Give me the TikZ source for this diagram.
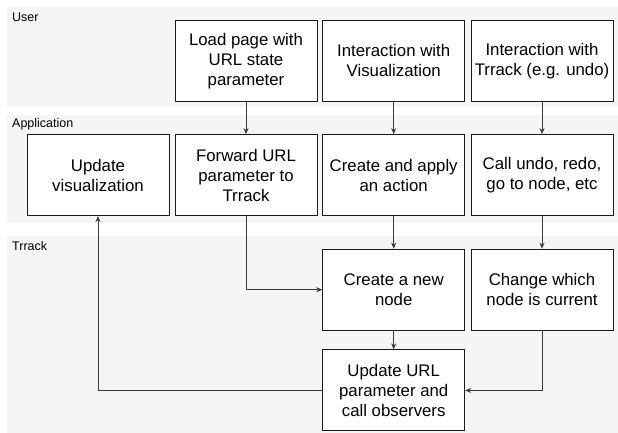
\documentclass[tikz,border=0pt]{standalone}
\usepackage{fontspec}
\setmainfont{Liberation Sans}
\usetikzlibrary{arrows.meta}
\definecolor{lanegray}{HTML}{F5F5F5}
\definecolor{linegray}{HTML}{3A3A3A}
\begin{document}
\begin{tikzpicture}[x=1pt,y=-1pt,
  lane/.style={fill=lanegray,draw=none},
  lanelabel/.style={anchor=west,inner sep=0pt,font=\fontsize{12.5}{14}\selectfont},
  box/.style={draw=black!90,line width=0.9pt,fill=white,minimum width=142pt,minimum height=81pt,
    align=center,inner sep=2pt,font=\fontsize{16.8}{20}\selectfont},
  conn/.style={draw=linegray,line width=0.9pt,-{Stealth[length=6pt,width=5pt]}}]
\useasboundingbox (0,0) rectangle (618,433);
\fill[white] (0,0) rectangle (618,433);
% lanes
\path[lane] (7,7) rectangle (618,107);
\path[lane] (7,115) rectangle (618,222.7);
\path[lane] (7,235.7) rectangle (618,433);
\node[lanelabel] (luser) at (12,17) {User};
\node[lanelabel] (lapp) at (12,124.5) {Application};
\node[lanelabel] (ltr) at (12,246.5) {Trrack};
% boxes
\node[box] (load) at (246,60.9) {Load page with\\URL state\\parameter};
\node[box] (ivis) at (393.7,60.9) {Interaction with\\Visualization};
\node[box] (itrr) at (542,60.9) {Interaction with\\Trrack (e.g. undo)};
\node[box] (upvis) at (98,175.1) {Update\\visualization};
\node[box] (fwd) at (246,175.1) {Forward URL\\parameter to\\Trrack};
\node[box] (create) at (393.7,175.1) {Create and apply\\an action};
\node[box] (call) at (542,175.1) {Call undo, redo,\\go to node, etc};
\node[box] (newnode) at (393.7,289.7) {Create a new\\node};
\node[box] (change) at (542,289.7) {Change which\\node is current};
\node[box] (upurl) at (393.7,390.4) {Update URL\\parameter and\\call observers};
% connectors
\draw[conn] (load) -- (fwd);
\draw[conn] (ivis) -- (create);
\draw[conn] (itrr) -- (call);
\draw[conn] (fwd.south) |- (newnode.west);
\draw[conn] (create) -- (newnode);
\draw[conn] (call) -- (change);
\draw[conn] (newnode) -- (upurl);
\draw[conn] (change.south) |- (upurl.east);
\draw[conn] (upurl.west) -| (upvis.south);
\end{tikzpicture}
\end{document}
